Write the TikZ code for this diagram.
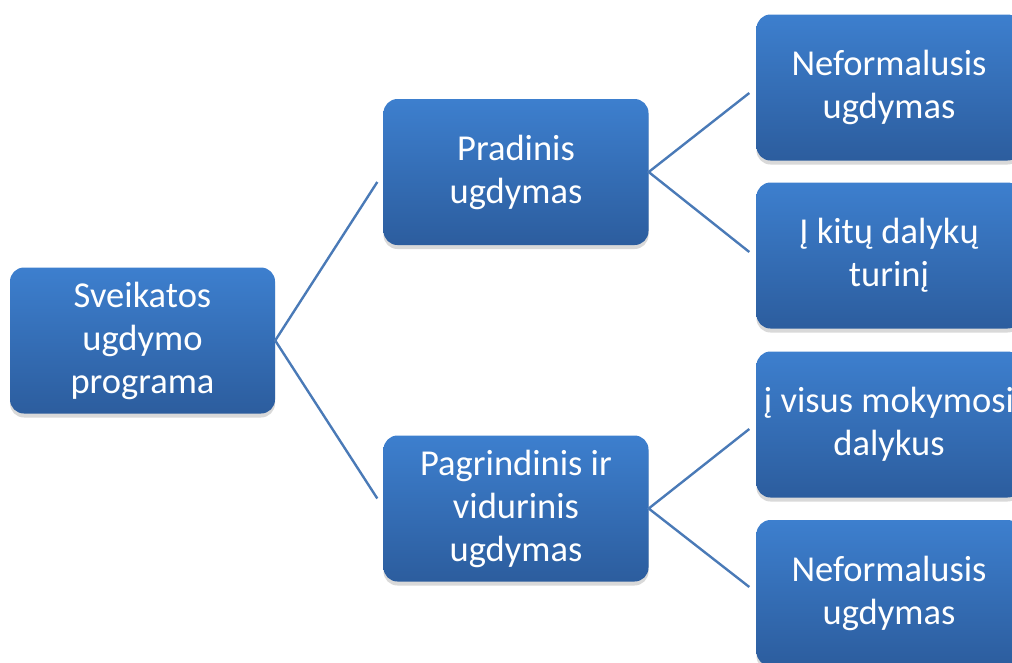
\documentclass[tikz,border=0pt]{standalone}
\usepackage{fontspec}
\setmainfont{Carlito}
\usetikzlibrary{shadows,calc}
\definecolor{boxtop}{RGB}{61,127,206}
\definecolor{boxbot}{RGB}{44,93,158}
\definecolor{linecol}{RGB}{74,122,183}
\tikzset{
  boxnode/.style={rounded corners=14pt, minimum width=265pt, minimum height=146pt,
    inner sep=0pt, top color=boxtop, bottom color=boxbot, draw=none,
    text=white, font=\fontsize{36.5}{43}\selectfont, align=center,
    drop shadow={shadow xshift=0pt, shadow yshift=-4pt, opacity=0.25, fill=black!60}},
  conn/.style={draw=linecol, line width=2.4pt}
}
\begin{document}
\begin{tikzpicture}[x=1pt,y=-1pt]
\useasboundingbox (0,0) rectangle (1012,662);
\clip (0,0) rectangle (1012,662);
\node[boxnode] (root) at (142.5,340.5) {Sveikatos\\ugdymo\\programa};
\node[boxnode] (pr) at (516,172) {Pradinis\\ugdymas};
\node[boxnode] (pa) at (516,508.5) {Pagrindinis ir\\vidurinis\\ugdymas};
\node[boxnode] (n1) at (889,87.5) {Neformalusis\\ugdymas};
\node[boxnode] (n2) at (889,255.5) {Į kitų dalykų\\turinį};
\node[boxnode] (n3) at (889,424.5) {į visus mokymosi\\dalykus};
\node[boxnode] (n4) at (889,593) {Neformalusis\\ugdymas};
\coordinate (epr) at ($(pr.west)+(-6,10)$);
\coordinate (epa) at ($(pa.west)+(-6,-10)$);
\coordinate (e1) at ($(n1.west)+(-7,5.5)$);
\coordinate (e2) at ($(n2.west)+(-7,-3.5)$);
\coordinate (e3) at ($(n3.west)+(-7,4.5)$);
\coordinate (e4) at ($(n4.west)+(-7,-6)$);
\draw[conn] (epr) -- (root.east) -- (epa);
\draw[conn] (e1) -- (pr.east) -- (e2);
\draw[conn] (e3) -- (pa.east) -- (e4);
\end{tikzpicture}
\end{document}
